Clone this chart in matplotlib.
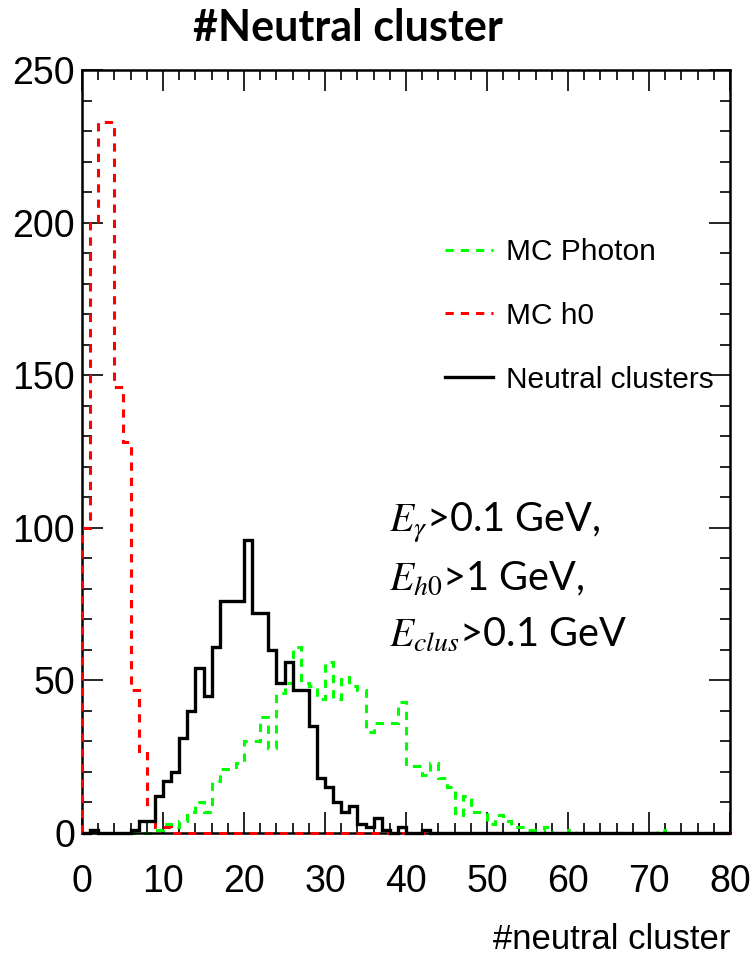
import numpy as np
import matplotlib
matplotlib.use("Agg")
import matplotlib.pyplot as plt

# bin edges: 80 unit-wide bins from 0 to 80
bin_edges = np.arange(0, 81)

# MC h0 (red dashed)
mc_h0 = [100, 200, 233, 233, 146, 128, 47, 27, 9, 2, 2] + [0] * 69

# MC photon (green dashed)
mc_photon = ([0] * 9 +
             [1, 3, 2, 4, 7, 10, 7, 17, 21, 21, 23, 30, 30, 38, 28, 46, 49, 61,
              49, 48, 44, 56, 44, 51, 48, 47, 33, 36, 36, 36, 43, 22, 22, 19,
              23, 18, 15, 6, 12, 7, 7, 3, 6, 4, 2, 2, 1, 1, 2, 0, 0, 1] +
             [0] * 10 + [1] + [0] * 8)

# reconstructed neutral clusters (black solid)
neutral = ([0, 1, 0, 0, 0, 0, 1, 4, 4, 12, 17, 20, 31, 40, 54, 45, 61, 76, 76,
            76, 96, 72, 72, 60, 49, 56, 47, 47, 35, 18, 15, 10, 7, 9, 3, 2, 5,
            1, 0, 2, 0, 0, 1] + [0] * 37)

x_ticks = [0, 10, 20, 30, 40, 50, 60, 70, 80]
y_ticks = [0, 50, 100, 150, 200, 250]

cut_lines = [r"$E_{\gamma}$>0.1 GeV,", r"$E_{h0}$>1 GeV,", r"$E_{clus}$>0.1 GeV"]

plt.rcParams['mathtext.fontset'] = 'stix'
root_font = 'Liberation Sans'

fig = plt.figure(figsize=(7.53, 9.6), dpi=100)
ax = fig.add_axes([0.1089, 0.1323, 0.8606, 0.7948])

ax.stairs(mc_photon, bin_edges, color='#00ff00', lw=2.2,
          linestyle=(0, (2.7, 2.3)), label='MC Photon', clip_on=False, zorder=2)
ax.stairs(mc_h0, bin_edges, color='#ff0000', lw=2.2,
          linestyle=(0, (2.7, 2.3)), label='MC h0', clip_on=False, zorder=3)
ax.stairs(neutral, bin_edges, color='black', lw=2.4,
          label='Neutral clusters', clip_on=False, zorder=4)

ax.set_xlim(0, 80)
ax.set_ylim(0, 250)
ax.set_xticks(x_ticks)
ax.set_yticks(y_ticks)
ax.set_xticks(np.arange(0, 81, 2), minor=True)
ax.set_yticks(np.arange(0, 251, 10), minor=True)

ax.tick_params(which='both', direction='in', top=True, right=True, width=1.2)
ax.tick_params(which='major', length=15)
ax.tick_params(which='minor', length=7)
ax.tick_params(axis='x', which='major', pad=22)
ax.tick_params(axis='y', which='major', pad=5)
for lab in ax.get_xticklabels() + ax.get_yticklabels():
    lab.set_fontfamily(root_font)
    lab.set_fontsize(27)
for sp in ax.spines.values():
    sp.set_linewidth(1.8)

leg = ax.legend(loc='upper left', bbox_to_anchor=(0.519, 0.815), frameon=False,
                prop={'family': root_font, 'size': 21.5}, handlelength=1.6,
                labelspacing=1.2, handletextpad=0.45)

# cut annotation
for i, line in enumerate(cut_lines):
    fig.text(0.516, 0.446 - i * 0.06, line, fontsize=28.5, family='Lato',
             ha='left', va='baseline')

fig.text(0.462, 0.971, '#Neutral cluster', fontsize=31, family='Lato',
         fontweight='bold', ha='center', va='center')
fig.text(0.9695, 0.011, '#neutral cluster', fontsize=25, family=root_font,
         ha='right', va='baseline')

fig.savefig('out.png', dpi=100)
